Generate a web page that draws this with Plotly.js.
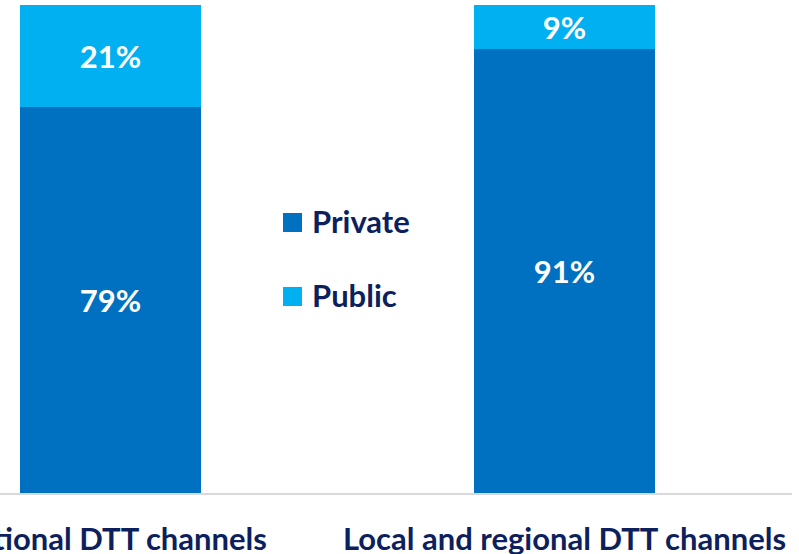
<!DOCTYPE html>
<html>
<head>
<meta charset="utf-8">
<script src="https://cdn.plot.ly/plotly-3.0.1.min.js"></script>
<style>html,body{margin:0;padding:0;background:#fff;}#chart{width:799px;height:554px;}</style>
</head>
<body>
<div id="chart"></div>
<script>
const categories = ["National DTT channels", "Local and regional DTT channels"];
const privateShare = [79, 91];
const publicShare = [21, 9];
const seriesNames = ["Private", "Public"];

const FONT = "Lato, 'Open Sans', sans-serif";
const NAVY = "#0D1F5C";
const C_PRIV = "#0070C0";
const C_PUB = "#00B0F0";

const traces = [
  {type: "bar", name: seriesNames[0], x: categories, y: privateShare,
   marker: {color: C_PRIV}, width: 0.4,
   texttemplate: "%{y}%", textposition: "inside", insidetextanchor: "middle",
   textangle: 0, constraintext: "none",
   textfont: {family: FONT, size: 31, color: "#ffffff", weight: 700},
   hoverinfo: "skip", showlegend: false},
  {type: "bar", name: seriesNames[1], x: categories, y: publicShare,
   marker: {color: C_PUB}, width: 0.4,
   texttemplate: "%{y}%", textposition: "inside", insidetextanchor: "middle",
   textangle: 0, constraintext: "none",
   textfont: {family: FONT, size: 31, color: "#ffffff", weight: 700},
   hoverinfo: "skip", showlegend: false}
];

const legendColors = [C_PRIV, C_PUB];
const legendY = [0.5543, 0.4027];
const shapes = [], annotations = [];
seriesNames.forEach((n, i) => {
  shapes.push({type: "rect", xref: "paper", yref: "paper",
    x0: 0.3573, x1: 0.3813, y0: legendY[i] - 0.0195, y1: legendY[i] + 0.0195,
    fillcolor: legendColors[i], line: {width: 0}});
  annotations.push({xref: "paper", yref: "paper", x: 0.3915, y: legendY[i] + 0.004,
    xanchor: "left", yanchor: "middle", showarrow: false, text: n,
    font: {family: FONT, size: 31, color: NAVY, weight: 700}});
});

const layout = {
  width: 799, height: 554,
  margin: {l: 0, r: 7, t: 5, b: 61, pad: 0},
  paper_bgcolor: "#fff", plot_bgcolor: "#fff",
  barmode: "stack",
  showlegend: false,
  xaxis: {type: "category", range: [-0.2434, 1.5011], automargin: false,
    showline: true, linecolor: "#D9D9D9", linewidth: 2, ticks: "",
    ticklabelstandoff: 18,
    tickfont: {family: FONT, size: 31, color: NAVY, weight: 700},
    showgrid: false, zeroline: false, fixedrange: true},
  yaxis: {range: [0, 100], visible: false, showgrid: false, zeroline: false, fixedrange: true},
  shapes: shapes,
  annotations: annotations,
  font: {family: FONT}
};

Plotly.newPlot("chart", traces, layout, {displayModeBar: false, staticPlot: true});
</script>
</body>
</html>
